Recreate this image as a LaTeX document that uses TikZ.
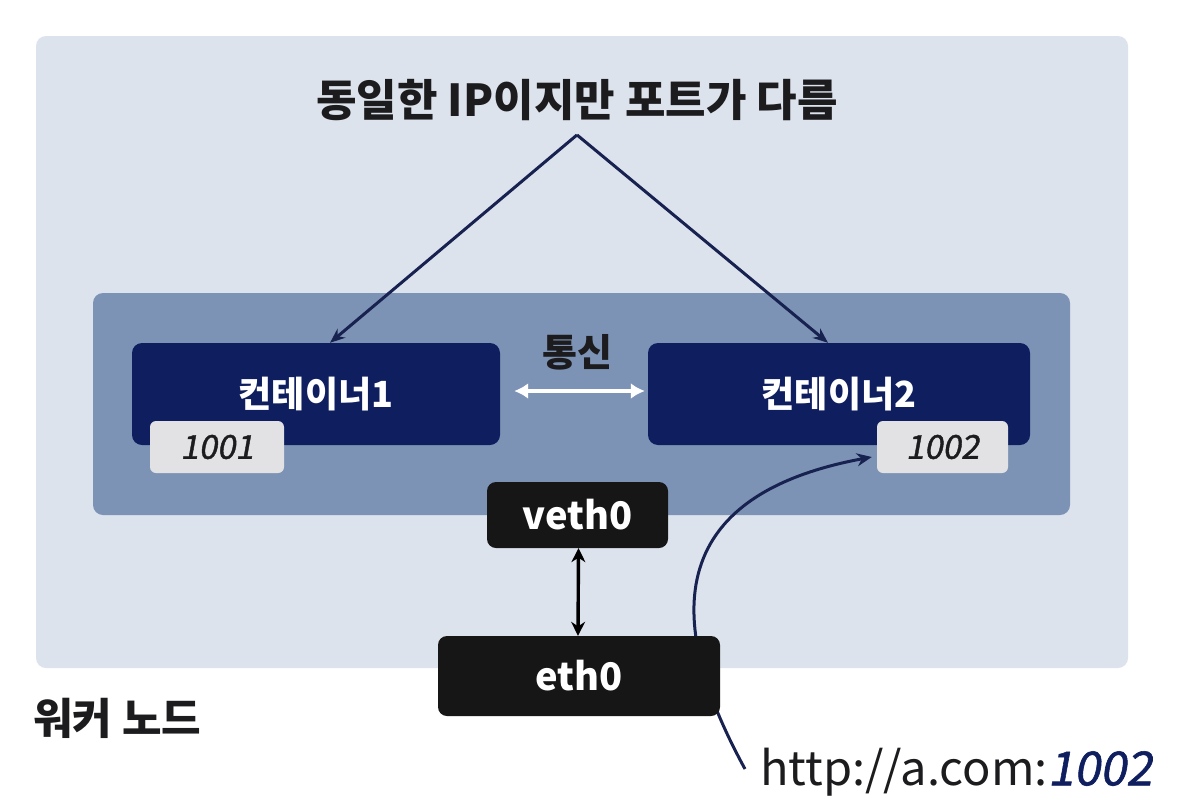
\documentclass[tikz,border=0pt]{standalone}
\usepackage{fontspec}
\setmainfont{Noto Sans CJK KR}
\newfontfamily\slantfont{Noto Sans CJK KR}[FakeSlant=0.18, FakeBold=1.2]
\usetikzlibrary{arrows.meta}
\definecolor{outerbg}{RGB}{221,227,237}
\definecolor{midbg}{RGB}{125,147,181}
\definecolor{navy}{RGB}{14,30,95}
\definecolor{tagbg}{RGB}{226,226,228}
\definecolor{boxblk}{RGB}{22,22,22}
\definecolor{linec}{RGB}{24,34,80}
\definecolor{inkc}{RGB}{28,28,30}
\tikzset{
  panel/.style={draw=none, rounded corners=10pt, inner sep=0pt},
  cbox/.style={fill=navy, rounded corners=10pt, inner sep=0pt, minimum height=102pt,
    text=white, font=\fontsize{36}{40}\selectfont\bfseries},
  tagbox/.style={fill=tagbg, rounded corners=6pt, inner sep=0pt, minimum height=52pt,
    text=inkc, font=\fontsize{33}{36}\selectfont\slantfont},
  ifbox/.style={fill=boxblk, rounded corners=9pt, inner sep=0pt, text=white,
    font=\fontsize{38}{42}\selectfont\bfseries},
  lbl/.style={inner sep=0pt, text=inkc},
  conn/.style={draw=linec, line width=3pt},
}
\begin{document}
\begin{tikzpicture}[x=1pt,y=-1pt]
\useasboundingbox (0,0) rectangle (1184,806);
\fill[white] (0,0) rectangle (1184,806);
% panels
\node[panel, fill=outerbg, minimum width=1092pt, minimum height=632pt] (outer) at (582,352) {};
\node[panel, fill=midbg, minimum width=977pt, minimum height=222pt] (mid) at (581.5,404) {};
% containers
\node[cbox, minimum width=368pt] (c1) at (316,394) {컨테이너1};
\node[cbox, minimum width=382pt] (c2) at (839,394) {컨테이너2};
\node[tagbox, minimum width=134pt] (t1) at (217,447) {1001};
\node[tagbox, minimum width=131pt] (t2) at (942.5,447) {1002};
% texts
\node[lbl, font=\fontsize{44}{50}\selectfont\bfseries] (top) at (577,100) {동일한 IP이지만 포트가 다름};
\node[lbl, font=\fontsize{38}{42}\selectfont\bfseries] (comm) at (577,352) {통신};
\node[lbl, font=\fontsize{43}{48}\selectfont\bfseries, anchor=west] (worker) at (33,718) {워커 노드};
\node[lbl, font=\fontsize{47}{52}\selectfont, anchor=west] (http) at (760,772) {http://a.com:\textcolor{navy}{\slantfont 1002}};
% apex
\coordinate (apex) at ([yshift=-14pt]top.south);
\draw[conn, -{Stealth[length=15pt,width=12pt]}] (apex) -- ([xshift=14pt]c1.north);
\draw[conn, -{Stealth[length=15pt,width=12pt]}] (apex) -- ([xshift=-11pt]c2.north);
% communication arrow
\draw[white, line width=4pt, {Latex[length=14pt,width=16pt]}-{Latex[length=14pt,width=16pt]}]
  ([xshift=14pt,yshift=3pt]c1.east) -- ([xshift=-3pt,yshift=3pt]c2.west);
% veth0
\node[ifbox, minimum width=181pt, minimum height=66pt] (veth) at (577.5,515) {veth0};
% curve from http to port 1002 (behind eth0)
\draw[conn, -{Stealth[length=15pt,width=13pt]}]
  ([xshift=-15pt,yshift=3pt]http.west) .. controls (680,650) and (640,500) .. ([xshift=-5pt,yshift=-10pt]t2.west);
% eth0
\node[ifbox, minimum width=282pt, minimum height=80pt] (eth) at (579,676) {eth0};
\draw[draw=black, line width=3.4pt, {Stealth[length=14pt,width=14pt]}-{Stealth[length=14pt,width=14pt]}]
  ([xshift=1pt]veth.south) -- ([xshift=-1pt]eth.north);
\end{tikzpicture}
\end{document}
